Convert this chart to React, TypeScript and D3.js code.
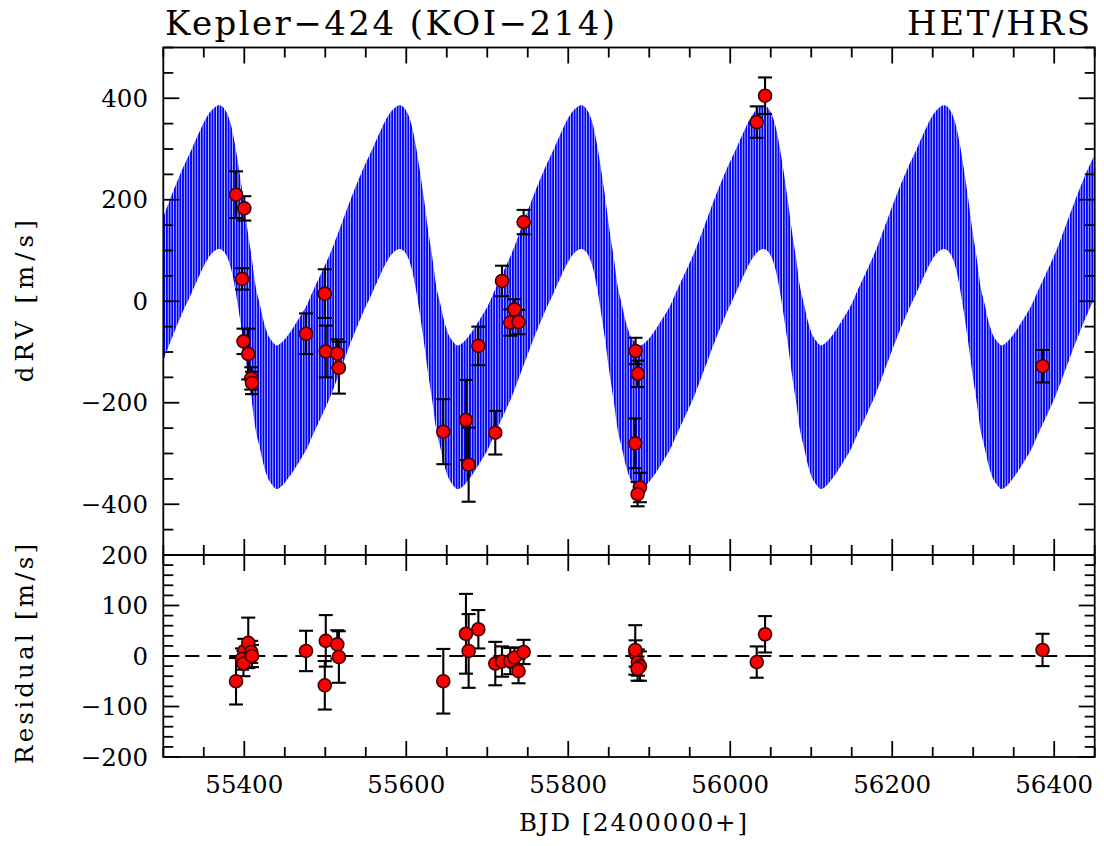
import React from "react";
import * as d3 from "d3";

// ---- observations (BJD-2400000, dRV m/s, error m/s) ----
const obsTime = [55389.8, 55400.0, 55397.2, 55399.0, 55404.9, 55408.6, 55409.5, 55476.2, 55499.4, 55500.6, 55514.8, 55516.8, 55645.7, 55673.7, 55677.0, 55689.0, 55709.9, 55718.2, 55728.4, 55733.6, 55738.6, 55744.9, 55883.1, 55885.9, 55882.7, 55888.5, 55885.6, 56032.7, 56043.0, 56385.6];
const obsRV = [210, 183, 44, -79, -104, -152, -161, -64, 15, -99, -103, -131, -257, -234, -322, -88, -259, 40, -42, -16, -41, 156, -98, -143, -280, -367, -380, 353, 405, -128];
const obsErr = [46, 24, 21, 25, 50, 22, 22, 40, 48, 51, 28, 51, 64, 79, 73, 38, 43, 30, 26, 20, 24, 24, 26, 26, 49, 29, 24, 31, 36, 32];
const obsResid = [-50, 10, -6, -15, 26, 8, 0, 10, -58, 30, 23, -2, -50, 44, 10, 53, -15, -11, -10, -3, -30, 8, 5, -13, 12, -20, -25, -12, 43, 12];

// ---- model band (outer-planet envelope) ----
const modelPeakTimes = [55369, 55592, 55816, 56041, 56264, 56487];
const envPhaseDays = [-152, -145, -135, -125, -115, -105, -95, -85, -75, -65, -55, -45, -35, -25, -15, -5, 0, 7, 15, 20, 25, 30, 35, 40, 45, 50, 55, 60, 65, 71];
const envUpper = [-87, -80, -60, -35, -8, 28, 62, 98, 140, 183, 224, 262, 296, 332, 364, 383, 386, 378, 345, 305, 255, 200, 140, 88, 30, -5, -40, -65, -78, -87];
const bandWidth = 283; // upper minus lower envelope
const innerPeriod = 3.3119;

// ---- axes ----
const xTicksMajor = [55400, 55600, 55800, 56000, 56200, 56400];
const rvTicksMajor = [-400, -200, 0, 200, 400];
const resTicksMajor = [-200, -100, 0, 100, 200];

const FONT = "DejaVu Serif";

export default function App() {
  const L = 163.3, R = 1094.7, T = 47.5, M = 555, B = 757;
  const x = d3.scaleLinear().domain([55300, 56450]).range([L, R]);
  const yTop = d3.scaleLinear().domain([-500, 500]).range([M, T]);
  const yRes = d3.scaleLinear().domain([-200, 200]).range([B, M]);

  const env: { t: number; u: number }[] = [];
  modelPeakTimes.forEach((tp) => {
    envPhaseDays.forEach((d, i) => {
      const t = tp + d;
      if (env.length === 0 || t > env[env.length - 1].t) env.push({ t, u: envUpper[i] });
    });
  });
  const area = d3
    .area<{ t: number; u: number }>()
    .x((d) => x(d.t))
    .y1((d) => yTop(d.u))
    .y0((d) => yTop(d.u - bandWidth))
    .curve(d3.curveMonotoneX);

  const pw = x(55300 + innerPeriod) - x(55300);

  const xMinor = d3.range(55300, 56451, 50);
  const rvMinor = d3.range(-500, 501, 50);
  const resMinor = d3.range(-200, 201, 20);

  const tickW = 1.8;
  const majL = 16, minL = 10;

  const idx = obsTime.map((_, i) => i);

  return (
    <svg width={1104} height={846} style={{ position: "absolute", left: 0, top: 0, background: "#fff" }}>
      <defs>
        <pattern id="hatch" patternUnits="userSpaceOnUse" x={L} y={0} width={pw} height={20}>
          <rect x={0} y={0} width={2.0} height={20} fill="#0000ff" />
        </pattern>
        <clipPath id="clipTop">
          <rect x={L} y={T} width={R - L} height={M - T} />
        </clipPath>
      </defs>
      <rect x={0} y={0} width={1104} height={846} fill="#fff" />

      <g clipPath="url(#clipTop)">
        <path d={area(env) || ""} fill="url(#hatch)" />
      </g>

      <line x1={L} x2={R} y1={yRes(0)} y2={yRes(0)} stroke="#000" strokeWidth={2} strokeDasharray="14 8" />

      <g stroke="#000" strokeWidth={2.1} fill="none">
        {idx.map((i) => {
          const cx = x(obsTime[i]);
          const y1 = yTop(obsRV[i] + obsErr[i]);
          const y2 = yTop(obsRV[i] - obsErr[i]);
          const r1 = yRes(obsResid[i] + obsErr[i]);
          const r2 = yRes(obsResid[i] - obsErr[i]);
          return (
            <g key={"e" + i}>
              <line x1={cx} x2={cx} y1={y1} y2={y2} />
              <line x1={cx - 7} x2={cx + 7} y1={y1} y2={y1} />
              <line x1={cx - 7} x2={cx + 7} y1={y2} y2={y2} />
              <line x1={cx} x2={cx} y1={r1} y2={r2} />
              <line x1={cx - 7} x2={cx + 7} y1={r1} y2={r1} />
              <line x1={cx - 7} x2={cx + 7} y1={r2} y2={r2} />
            </g>
          );
        })}
      </g>

      <g fill="#ff0000" stroke="#3a0000" strokeWidth={1.6}>
        {idx.map((i) => (
          <g key={"p" + i}>
            <circle cx={x(obsTime[i])} cy={yTop(obsRV[i])} r={6.5} />
            <circle cx={x(obsTime[i])} cy={yRes(obsResid[i])} r={6.5} />
          </g>
        ))}
      </g>

      <g fill="none" stroke="#000" strokeWidth={1.8}>
        <rect x={L} y={T} width={R - L} height={B - T} />
        <line x1={L} x2={R} y1={M} y2={M} />
      </g>

      <g stroke="#000" strokeWidth={tickW}>
        {xMinor.map((v) => {
          const big = v % 200 === 0;
          const l = big ? majL : minL;
          const px = x(v);
          return (
            <g key={"xt" + v}>
              <line x1={px} x2={px} y1={T} y2={T + l} />
              <line x1={px} x2={px} y1={M} y2={M - l} />
              <line x1={px} x2={px} y1={M} y2={M + l} />
              <line x1={px} x2={px} y1={B} y2={B - l} />
            </g>
          );
        })}
        {rvMinor.map((v) => {
          const big = v % 200 === 0;
          const l = big ? majL : minL;
          const py = yTop(v);
          return (
            <g key={"yt" + v}>
              <line x1={L} x2={L + l} y1={py} y2={py} />
              <line x1={R} x2={R - l} y1={py} y2={py} />
            </g>
          );
        })}
        {resMinor.map((v) => {
          const big = v % 100 === 0;
          const l = big ? majL : minL;
          const py = yRes(v);
          return (
            <g key={"rt" + v}>
              <line x1={L} x2={L + l} y1={py} y2={py} />
              <line x1={R} x2={R - l} y1={py} y2={py} />
            </g>
          );
        })}
      </g>

      <g fontFamily={FONT} fontSize={24.5} fill="#000">
        {xTicksMajor.map((v) => (
          <text key={"xl" + v} x={x(v)} y={793} textAnchor="middle">
            {String(v)}
          </text>
        ))}
        {rvTicksMajor.map((v) => (
          <text key={"yl" + v} x={148} y={yTop(v)} textAnchor="end" dominantBaseline="central">
            {v < 0 ? "\u2212" + Math.abs(v) : String(v)}
          </text>
        ))}
        {resTicksMajor.map((v) => (
          <text key={"rl" + v} x={148} y={yRes(v)} textAnchor="end" dominantBaseline="central">
            {v < 0 ? "\u2212" + Math.abs(v) : String(v)}
          </text>
        ))}
      </g>

      <g fontFamily={FONT} fontSize={24.5} fill="#000">
        <text x={633} y={831} textAnchor="middle" textLength={228} lengthAdjust="spacing">BJD [2400000+]</text>
        <text transform={`translate(33, ${yTop(0)}) rotate(-90)`} textAnchor="middle" textLength={162} lengthAdjust="spacing">dRV [m/s]</text>
        <text transform={`translate(33, ${yRes(0) - 2}) rotate(-90)`} textAnchor="middle" textLength={220} lengthAdjust="spacing">Residual [m/s]</text>
      </g>

      <g fontFamily={FONT} fontSize={34} fill="#000">
        <text x={165} y={35} textLength={450} lengthAdjust="spacing">Kepler{"\u2212"}424 (KOI{"\u2212"}214)</text>
        <text x={907} y={35} textLength={183} lengthAdjust="spacing">HET/HRS</text>
      </g>
    </svg>
  );
}
